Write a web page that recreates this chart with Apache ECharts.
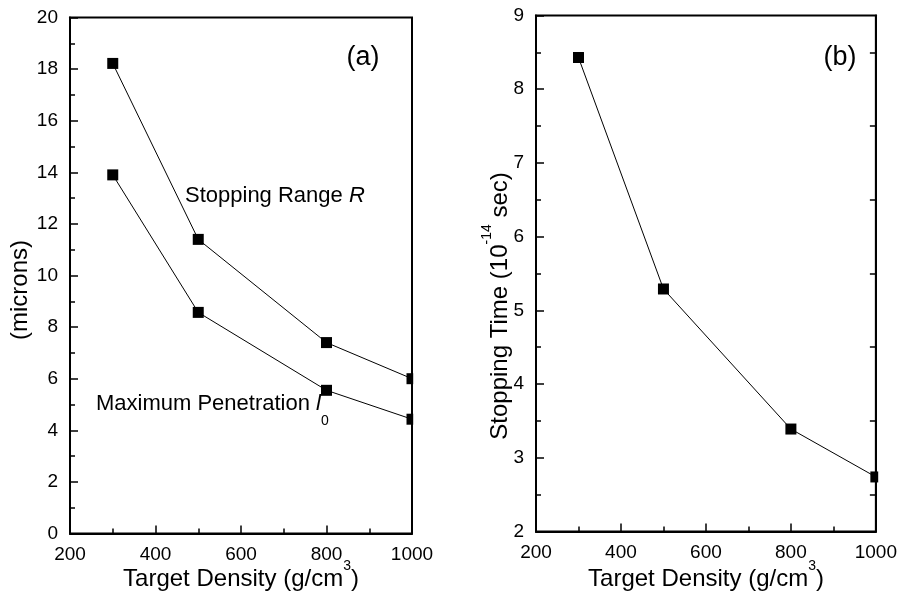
<!DOCTYPE html>
<html>
<head>
<meta charset="utf-8">
<script src="https://cdn.jsdelivr.net/npm/echarts@6/dist/echarts.min.js"></script>
<style>
html,body{margin:0;padding:0;background:#fff;}
#chart{width:900px;height:597px;}
</style>
</head>
<body>
<div id="chart"></div>
<script>
// ---- data ----
const densities = [300, 500, 800, 1000];
const stoppingRange = [18.22, 11.40, 7.40, 6.00];
const maxPenetration = [13.90, 8.57, 5.55, 4.43];
const stoppingTime = [8.43, 5.29, 3.39, 2.74];
const xTicks = [200, 400, 600, 800, 1000];
const yTicksA = [0, 2, 4, 6, 8, 10, 12, 14, 16, 18, 20];
const yTicksB = [2, 3, 4, 5, 6, 7, 8, 9];

const FONT = '"Liberation Sans", Arial, Helvetica, sans-serif';
const chart = echarts.init(document.getElementById('chart'), null, {renderer: 'canvas'});

const gridA = {left: 70, top: 17.5, width: 342, height: 516};
const gridB = {left: 536, top: 15.5, width: 341, height: 516};

function xAxisDef(gi) {
  return {
    type: 'value', gridIndex: gi,
    min: xTicks[0], max: xTicks[xTicks.length - 1], interval: xTicks[1] - xTicks[0],
    axisLine: {show: true, onZero: false, lineStyle: {color: '#000', width: 2}},
    axisTick: {show: true, inside: true, length: 8, lineStyle: {color: '#000', width: 1.5}},
    minorTick: {show: true, splitNumber: 2, length: 5, lineStyle: {color: '#000', width: 1.5}},
    splitLine: {show: false},
    axisLabel: {color: '#000', fontSize: 19, fontFamily: FONT, margin: 12, formatter: v => String(v)}
  };
}
function yAxisDef(gi, ticks, right) {
  const base = {
    type: 'value', gridIndex: gi,
    min: ticks[0], max: ticks[ticks.length - 1], interval: ticks[1] - ticks[0],
    axisLine: {show: true, onZero: false, lineStyle: {color: '#000', width: 2}},
    splitLine: {show: false}
  };
  if (right) {
    return Object.assign(base, {
      position: 'right',
      axisTick: {show: false, inside: true, length: 6},
      minorTick: {show: true, splitNumber: 2, length: 6, lineStyle: {color: '#000', width: 1.5}},
      axisLabel: {show: false}
    });
  }
  return Object.assign(base, {
    axisTick: {show: true, inside: true, length: 8, lineStyle: {color: '#000', width: 1.5}},
    minorTick: {show: true, splitNumber: 2, length: 5, lineStyle: {color: '#000', width: 1.5}},
    axisLabel: {color: '#000', fontSize: 19, fontFamily: FONT, margin: 12, formatter: v => String(v)}
  });
}

function lineSeries(xi, yi, values) {
  return {
    type: 'line', xAxisIndex: xi, yAxisIndex: yi,
    data: densities.map((d, i) => [d, values[i]]),
    symbol: 'rect', symbolSize: 11,
    itemStyle: {color: '#000'},
    lineStyle: {color: '#000', width: 1},
    animation: false, silent: true
  };
}

const supRich = {
  n: {fontSize: 24, fontFamily: FONT, fill: '#000', lineHeight: 40},
  s: {fontSize: 14, fontFamily: FONT, fill: '#000', lineHeight: 14, verticalAlign: 'top'}
};

const option = {
  backgroundColor: '#fff',
  animation: false,
  grid: [
    Object.assign({show: true, borderColor: '#000', borderWidth: 2, backgroundColor: 'transparent'}, gridA),
    Object.assign({show: true, borderColor: '#000', borderWidth: 2, backgroundColor: 'transparent'}, gridB)
  ],
  xAxis: [xAxisDef(0), xAxisDef(1)],
  yAxis: [yAxisDef(0, yTicksA, false), yAxisDef(1, yTicksB, false), yAxisDef(1, yTicksB, true)],
  series: [
    lineSeries(0, 0, stoppingRange),
    lineSeries(0, 0, maxPenetration),
    lineSeries(1, 1, stoppingTime)
  ],
  graphic: [
    // clip markers at right border
    {type: 'rect', z: 100, shape: {x: 413.2, y: 18.5, width: 12, height: 514}, style: {fill: '#fff'}},
    {type: 'rect', z: 100, shape: {x: 878.2, y: 16.5, width: 14, height: 514}, style: {fill: '#fff'}},
    // axis titles
    {type: 'text', z: 50, x: 241, y: 579, style: {
      text: '{n|Target Density (g/cm}{s|3}{n|)}', rich: supRich, align: 'center', verticalAlign: 'middle'}},
    {type: 'text', z: 50, x: 706, y: 579, style: {
      text: '{n|Target Density (g/cm}{s|3}{n|)}', rich: supRich, align: 'center', verticalAlign: 'middle'}},
    {type: 'text', z: 50, x: 20, y: 290, rotation: Math.PI / 2, style: {
      text: '(microns)', fontSize: 24, fontFamily: FONT, fill: '#000', align: 'center', verticalAlign: 'middle'}},
    {type: 'text', z: 50, x: 500, y: 306, rotation: Math.PI / 2, style: {
      text: '{n|Stopping Time (10}{s|-14}{n| sec)}', rich: supRich, align: 'center', verticalAlign: 'middle'}},
    // panel labels
    {type: 'text', z: 50, x: 363, y: 58, style: {
      text: '(a)', fontSize: 27, fontFamily: FONT, fill: '#000', align: 'center', verticalAlign: 'middle'}},
    {type: 'text', z: 50, x: 840, y: 58, style: {
      text: '(b)', fontSize: 27, fontFamily: FONT, fill: '#000', align: 'center', verticalAlign: 'middle'}},
    // annotations
    {type: 'text', z: 50, x: 185, y: 196, style: {
      text: '{n|Stopping Range }{i|R}',
      rich: {
        n: {fontSize: 22, fontFamily: FONT, fill: '#000'},
        i: {fontSize: 22, fontFamily: FONT, fill: '#000', fontStyle: 'italic'}
      },
      align: 'left', verticalAlign: 'middle'}},
    {type: 'text', z: 50, x: 96, y: 404, style: {
      text: '{n|Maximum Penetration }{i|l}{s|0}',
      rich: {
        n: {fontSize: 22, fontFamily: FONT, fill: '#000', lineHeight: 48},
        i: {fontSize: 22, fontFamily: FONT, fill: '#000', fontStyle: 'italic', lineHeight: 48},
        s: {fontSize: 14, fontFamily: FONT, fill: '#000', lineHeight: 14, verticalAlign: 'bottom'}
      },
      align: 'left', verticalAlign: 'middle'}}
  ]
};
chart.setOption(option);
</script>
</body>
</html>
